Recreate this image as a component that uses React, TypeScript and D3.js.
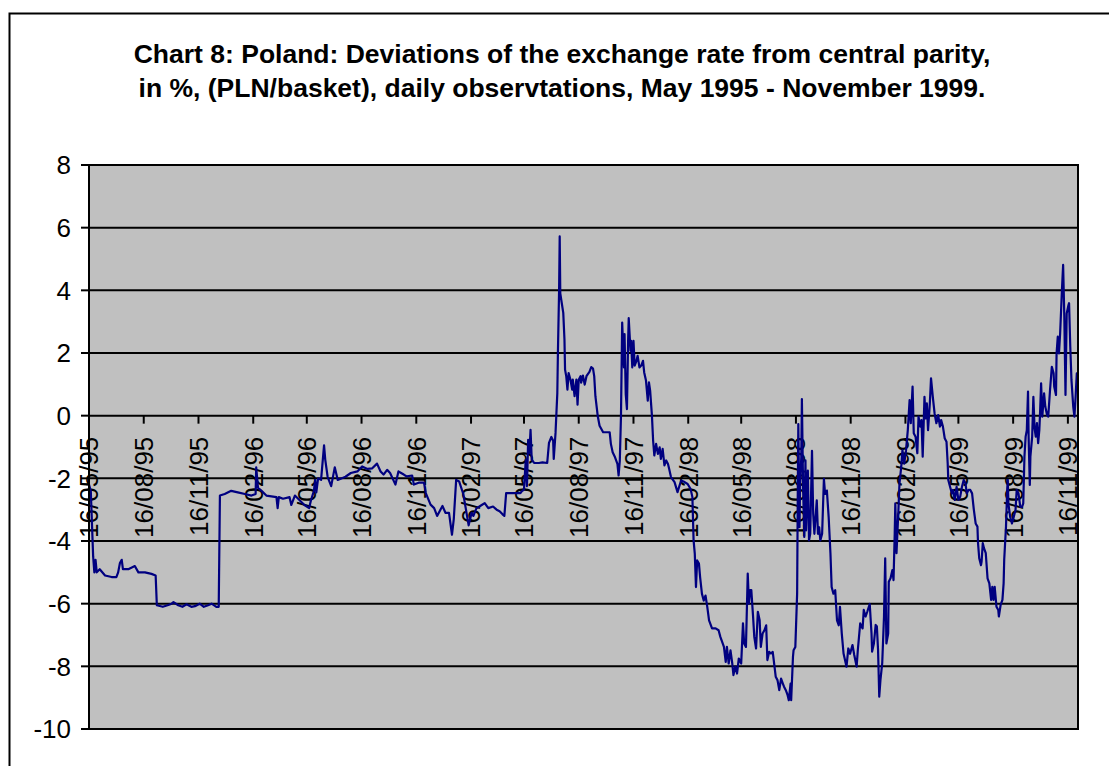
import React from "react";
import * as d3 from "d3";

const titleLines = [
  "Chart 8: Poland: Deviations of the exchange rate from central parity,",
  "in %, (PLN/basket), daily observtations, May 1995 - November 1999.",
];

const yTickValues = [8, 6, 4, 2, 0, -2, -4, -6, -8, -10];

const xTickLabels = [
  "16/05/95", "16/08/95", "16/11/95", "16/02/96", "16/05/96", "16/08/96",
  "16/11/96", "16/02/97", "16/05/97", "16/08/97", "16/11/97", "16/02/98",
  "16/05/98", "16/08/98", "16/11/98", "16/02/99", "16/05/99", "16/08/99",
  "16/11/99",
];

const xDomain = ["1995-05-16", "1999-12-03"];

const s1995: [string, number][] = [
  ["1995-05-16", -2.2], ["1995-05-19", -2.4], ["1995-05-23", -4.5], ["1995-05-25", -5.0],
  ["1995-05-27", -4.6], ["1995-05-29", -5.0], ["1995-06-03", -4.9], ["1995-06-12", -5.1],
  ["1995-06-23", -5.15], ["1995-07-01", -5.15], ["1995-07-04", -5.0], ["1995-07-07", -4.7],
  ["1995-07-10", -4.6], ["1995-07-12", -4.9], ["1995-07-21", -4.9], ["1995-08-01", -4.8],
  ["1995-08-07", -5.0], ["1995-08-18", -5.0], ["1995-08-29", -5.05], ["1995-09-05", -5.1],
  ["1995-09-07", -6.05], ["1995-09-17", -6.1], ["1995-09-25", -6.05], ["1995-10-02", -6.0],
  ["1995-10-05", -5.95], ["1995-10-13", -6.05], ["1995-10-20", -6.1], ["1995-10-27", -6.02],
  ["1995-11-04", -6.1], ["1995-11-10", -6.08], ["1995-11-18", -6.0], ["1995-11-25", -6.1],
  ["1995-12-02", -6.05], ["1995-12-08", -6.0], ["1995-12-16", -6.1], ["1995-12-20", -6.1],
  ["1995-12-22", -2.55], ["1995-12-30", -2.5],
];

const s1996: [string, number][] = [
  ["1996-01-10", -2.4], ["1996-01-21", -2.45], ["1996-02-02", -2.5], ["1996-02-13", -2.55],
  ["1996-02-20", -2.5], ["1996-02-21", -1.65], ["1996-02-24", -2.3], ["1996-03-01", -2.4],
  ["1996-03-09", -2.55], ["1996-03-26", -2.6], ["1996-03-28", -2.95], ["1996-03-30", -2.6],
  ["1996-04-06", -2.65], ["1996-04-17", -2.6], ["1996-04-20", -2.85], ["1996-04-26", -2.55],
  ["1996-05-04", -2.7], ["1996-05-12", -2.85], ["1996-05-20", -2.95], ["1996-05-23", -2.7],
  ["1996-05-28", -2.4], ["1996-05-30", -2.05], ["1996-06-01", -2.45], ["1996-06-04", -2.0],
  ["1996-06-09", -2.05], ["1996-06-14", -0.95], ["1996-06-16", -1.4], ["1996-06-20", -1.95],
  ["1996-06-26", -2.25], ["1996-07-02", -1.65], ["1996-07-07", -2.05], ["1996-07-20", -1.95],
  ["1996-07-29", -1.83], ["1996-08-09", -1.78], ["1996-08-17", -1.62], ["1996-08-26", -1.7],
  ["1996-09-03", -1.68], ["1996-09-11", -1.53], ["1996-09-17", -1.78], ["1996-09-22", -1.88],
  ["1996-09-28", -1.73], ["1996-10-03", -1.83], ["1996-10-12", -2.2], ["1996-10-17", -1.78],
  ["1996-10-26", -1.88], ["1996-10-31", -1.94], ["1996-11-09", -1.91], ["1996-11-12", -2.2],
  ["1996-11-20", -2.14], ["1996-11-29", -2.14], ["1996-12-02", -2.47], ["1996-12-10", -2.84],
  ["1996-12-16", -2.95], ["1996-12-21", -3.2], ["1996-12-30", -2.88],
];

const s1997: [string, number][] = [
  ["1997-01-04", -3.1], ["1997-01-10", -3.1], ["1997-01-15", -3.8], ["1997-01-18", -3.3],
  ["1997-01-22", -2.05], ["1997-01-27", -2.1], ["1997-02-03", -2.5], ["1997-02-12", -3.5],
  ["1997-02-17", -3.1], ["1997-02-20", -3.2], ["1997-02-25", -2.96], ["1997-03-06", -2.85],
  ["1997-03-11", -2.79], ["1997-03-17", -2.95], ["1997-03-25", -2.9], ["1997-03-31", -3.0],
  ["1997-04-05", -3.05], ["1997-04-10", -3.15], ["1997-04-13", -3.2], ["1997-04-16", -2.47],
  ["1997-05-10", -2.47], ["1997-05-12", -2.42], ["1997-05-16", -2.36], ["1997-05-19", -1.4],
  ["1997-05-21", -2.25], ["1997-05-23", -0.77], ["1997-05-25", -1.2], ["1997-05-27", -0.45],
  ["1997-05-29", -1.4], ["1997-06-02", -1.51], ["1997-06-10", -1.51], ["1997-06-16", -1.49],
  ["1997-06-24", -1.51], ["1997-06-27", -0.87], ["1997-07-01", -0.68], ["1997-07-04", -0.8],
  ["1997-07-05", -1.38], ["1997-07-08", -0.55], ["1997-07-11", 0.72], ["1997-07-12", 2.0],
  ["1997-07-14", 4.02], ["1997-07-15", 5.72], ["1997-07-16", 3.9], ["1997-07-21", 3.28],
  ["1997-07-23", 2.43], ["1997-07-24", 1.47], ["1997-07-26", 1.26], ["1997-07-28", 0.83],
  ["1997-07-30", 1.36], ["1997-08-02", 1.15], ["1997-08-05", 0.83], ["1997-08-06", 1.15],
  ["1997-08-09", 0.62], ["1997-08-12", 1.15], ["1997-08-14", 0.35], ["1997-08-16", 1.15],
  ["1997-08-19", 1.26], ["1997-08-20", 1.05], ["1997-08-23", 1.28], ["1997-08-26", 0.99],
  ["1997-08-29", 1.26], ["1997-08-31", 1.32], ["1997-09-03", 1.4], ["1997-09-06", 1.55],
  ["1997-09-09", 1.5], ["1997-09-11", 1.26], ["1997-09-13", 0.62], ["1997-09-17", -0.02],
  ["1997-09-20", -0.32], ["1997-09-26", -0.53], ["1997-10-07", -0.53], ["1997-10-09", -0.9],
  ["1997-10-12", -1.17], ["1997-10-16", -1.33], ["1997-10-20", -1.54], ["1997-10-22", -1.91],
  ["1997-10-24", -1.44], ["1997-10-26", 0.0], ["1997-10-28", 2.97], ["1997-10-31", 1.54],
  ["1997-11-01", 2.6], ["1997-11-03", 0.69], ["1997-11-05", 0.21], ["1997-11-07", 2.39],
  ["1997-11-08", 3.11], ["1997-11-11", 2.07], ["1997-11-12", 2.39], ["1997-11-14", 1.54],
  ["1997-11-16", 2.39], ["1997-11-18", 1.6], ["1997-11-21", 1.75], ["1997-11-23", 1.91],
  ["1997-11-26", 1.54], ["1997-11-29", 1.6], ["1997-12-02", 1.75], ["1997-12-04", 1.38],
  ["1997-12-07", 1.12], ["1997-12-10", 0.48], ["1997-12-12", 1.06], ["1997-12-14", 0.8],
  ["1997-12-17", 0.0], ["1997-12-19", -0.8], ["1997-12-21", -1.27], ["1997-12-24", -0.9],
  ["1997-12-27", -1.22], ["1997-12-30", -1.01],
];

const s1998: [string, number][] = [
  ["1998-01-01", -1.38], ["1998-01-04", -1.06], ["1998-01-07", -1.59], ["1998-01-10", -1.43],
  ["1998-01-13", -1.54], ["1998-01-15", -1.7], ["1998-01-18", -1.96], ["1998-01-24", -2.12],
  ["1998-01-29", -2.44], ["1998-02-04", -2.07], ["1998-02-10", -2.12], ["1998-02-15", -2.18],
  ["1998-02-20", -2.34], ["1998-02-23", -2.6], ["1998-02-25", -3.98], ["1998-02-27", -4.4],
  ["1998-03-01", -5.47], ["1998-03-03", -4.62], ["1998-03-06", -4.72], ["1998-03-08", -5.16],
  ["1998-03-11", -5.68], ["1998-03-14", -5.9], ["1998-03-17", -5.74], ["1998-03-20", -6.1],
  ["1998-03-23", -6.53], ["1998-03-28", -6.79], ["1998-04-03", -6.79], ["1998-04-08", -6.85],
  ["1998-04-11", -7.06], ["1998-04-17", -7.38], ["1998-04-20", -7.86], ["1998-04-22", -7.38],
  ["1998-04-25", -7.91], ["1998-04-28", -7.49], ["1998-05-01", -7.91], ["1998-05-03", -8.28],
  ["1998-05-06", -8.01], ["1998-05-09", -8.23], ["1998-05-12", -7.75], ["1998-05-16", -7.91],
  ["1998-05-19", -6.63], ["1998-05-21", -7.27], ["1998-05-24", -7.38], ["1998-05-27", -5.04],
  ["1998-05-29", -6.0], ["1998-05-31", -5.57], ["1998-06-02", -5.57], ["1998-06-05", -6.42],
  ["1998-06-07", -7.06], ["1998-06-10", -7.43], ["1998-06-13", -6.26], ["1998-06-16", -6.53],
  ["1998-06-18", -7.38], ["1998-06-21", -6.95], ["1998-06-24", -6.85], ["1998-06-27", -6.69],
  ["1998-06-29", -7.8], ["1998-07-02", -7.54], ["1998-07-05", -7.59], ["1998-07-08", -7.54],
  ["1998-07-11", -8.01], ["1998-07-13", -8.33], ["1998-07-16", -8.44], ["1998-07-19", -8.76],
  ["1998-07-22", -8.39], ["1998-07-25", -8.55], ["1998-07-27", -8.65], ["1998-07-30", -8.76],
  ["1998-08-02", -8.92], ["1998-08-04", -9.08], ["1998-08-07", -8.55], ["1998-08-08", -9.08],
  ["1998-08-11", -7.7], ["1998-08-12", -7.49], ["1998-08-15", -7.38], ["1998-08-18", -5.68],
  ["1998-08-19", -2.7], ["1998-08-20", -0.27], ["1998-08-22", -3.56], ["1998-08-23", -2.18],
  ["1998-08-25", -1.33], ["1998-08-26", 0.53], ["1998-08-28", -2.28], ["1998-08-30", -3.87],
  ["1998-09-01", -1.43], ["1998-09-02", -3.66], ["1998-09-05", -1.75], ["1998-09-07", -3.98],
  ["1998-09-09", -3.77], ["1998-09-12", -1.12], ["1998-09-14", -3.13], ["1998-09-16", -3.77],
  ["1998-09-20", -2.7], ["1998-09-22", -3.77], ["1998-09-24", -3.56], ["1998-09-26", -3.98],
  ["1998-09-29", -3.77], ["1998-10-02", -2.02], ["1998-10-04", -2.5], ["1998-10-07", -2.39],
  ["1998-10-10", -3.24], ["1998-10-13", -4.4], ["1998-10-15", -5.47], ["1998-10-18", -5.68],
  ["1998-10-21", -5.57], ["1998-10-24", -6.53], ["1998-10-27", -6.69], ["1998-10-29", -6.1],
  ["1998-11-01", -6.95], ["1998-11-04", -7.59], ["1998-11-09", -8.01], ["1998-11-12", -7.43],
  ["1998-11-15", -7.6], ["1998-11-19", -7.32], ["1998-11-22", -7.64], ["1998-11-26", -8.01],
  ["1998-11-28", -7.48], ["1998-12-02", -6.63], ["1998-12-06", -6.79], ["1998-12-08", -6.2],
  ["1998-12-11", -6.41], ["1998-12-14", -6.25], ["1998-12-18", -6.01], ["1998-12-21", -6.95],
  ["1998-12-22", -7.53], ["1998-12-25", -7.27], ["1998-12-28", -6.68], ["1998-12-30", -6.73],
];

const s1999: [string, number][] = [
  ["1999-01-01", -7.48], ["1999-01-03", -8.97], ["1999-01-05", -8.44], ["1999-01-08", -7.9],
  ["1999-01-11", -6.41], ["1999-01-13", -4.55], ["1999-01-15", -7.27], ["1999-01-18", -6.95],
  ["1999-01-19", -5.3], ["1999-01-22", -5.19], ["1999-01-25", -4.93], ["1999-01-27", -5.25],
  ["1999-01-29", -3.76], ["1999-01-30", -2.8], ["1999-02-01", -4.39], ["1999-02-04", -3.12],
  ["1999-02-06", -2.16], ["1999-02-09", -1.63], ["1999-02-11", -1.1], ["1999-02-14", -1.53],
  ["1999-02-17", -1.1], ["1999-02-20", -0.46], ["1999-02-23", 0.5], ["1999-02-25", -0.24],
  ["1999-02-28", 0.93], ["1999-03-02", -0.56], ["1999-03-05", -0.67], ["1999-03-08", -1.2],
  ["1999-03-10", -0.03], ["1999-03-13", -0.35], ["1999-03-15", -0.14], ["1999-03-17", -1.31],
  ["1999-03-20", 0.6], ["1999-03-22", -0.09], ["1999-03-24", 0.39], ["1999-03-26", -0.46],
  ["1999-03-29", 0.39], ["1999-03-31", 1.19], ["1999-04-03", 0.6], ["1999-04-06", 0.07],
  ["1999-04-09", -0.24], ["1999-04-12", 0.02], ["1999-04-15", -0.35], ["1999-04-17", -0.14],
  ["1999-04-20", -0.35], ["1999-04-23", -0.72], ["1999-04-26", -0.83], ["1999-04-28", -1.52],
  ["1999-04-29", -2.05], ["1999-05-02", -2.27], ["1999-05-05", -2.48], ["1999-05-07", -2.37],
  ["1999-05-10", -2.69], ["1999-05-13", -2.27], ["1999-05-16", -2.69], ["1999-05-19", -2.59],
  ["1999-05-22", -2.27], ["1999-05-25", -2.05], ["1999-05-28", -2.16], ["1999-05-30", -2.48],
  ["1999-06-02", -2.37], ["1999-06-05", -2.37], ["1999-06-08", -2.48], ["1999-06-11", -3.01],
  ["1999-06-14", -3.44], ["1999-06-17", -3.54], ["1999-06-18", -4.07], ["1999-06-20", -4.55],
  ["1999-06-23", -4.77], ["1999-06-24", -4.66], ["1999-06-26", -4.07], ["1999-06-28", -4.23],
  ["1999-07-01", -4.39], ["1999-07-04", -5.19], ["1999-07-07", -5.35], ["1999-07-10", -5.88],
  ["1999-07-12", -5.46], ["1999-07-14", -5.88], ["1999-07-16", -5.46], ["1999-07-19", -6.1],
  ["1999-07-22", -6.2], ["1999-07-23", -6.41], ["1999-07-26", -6.04], ["1999-07-29", -5.88],
  ["1999-07-31", -5.35], ["1999-08-01", -4.6], ["1999-08-04", -3.54], ["1999-08-06", -2.37],
  ["1999-08-07", -2.05], ["1999-08-08", -2.8], ["1999-08-11", -3.23], ["1999-08-14", -3.44],
  ["1999-08-17", -3.23], ["1999-08-20", -3.01], ["1999-08-22", -2.37], ["1999-08-25", -2.48],
  ["1999-08-28", -2.91], ["1999-08-31", -2.91], ["1999-09-02", -2.8], ["1999-09-04", -1.31],
  ["1999-09-06", -0.67], ["1999-09-08", -0.46], ["1999-09-10", 0.77], ["1999-09-11", -0.67],
  ["1999-09-13", -2.21], ["1999-09-14", -1.31], ["1999-09-17", -0.67], ["1999-09-19", 0.6],
  ["1999-09-21", -0.4], ["1999-09-23", -0.67], ["1999-09-25", -0.24], ["1999-09-27", -0.88],
  ["1999-09-29", -0.46], ["1999-09-30", -0.03], ["1999-10-02", 1.03], ["1999-10-04", -0.03],
  ["1999-10-07", 0.71], ["1999-10-09", 0.29], ["1999-10-12", 0.02], ["1999-10-14", -0.03],
  ["1999-10-17", 0.82], ["1999-10-20", 1.56], ["1999-10-23", 1.35], ["1999-10-24", 0.93],
  ["1999-10-27", 0.66], ["1999-10-28", 1.99], ["1999-10-30", 2.52], ["1999-11-01", 1.99],
  ["1999-11-03", 2.63], ["1999-11-06", 4.01], ["1999-11-08", 4.81], ["1999-11-10", 3.16],
  ["1999-11-12", 0.66], ["1999-11-14", 3.26], ["1999-11-17", 3.53], ["1999-11-18", 3.59],
  ["1999-11-20", 2.21], ["1999-11-22", 1.14], ["1999-11-25", 0.29], ["1999-11-27", -0.03],
  ["1999-11-29", 0.61], ["1999-12-01", 1.35], ["1999-12-03", 1.35],
];

const W = 1109;
const H = 766;
const M = { left: 89, right: 1078, top: 165, bottom: 729 };
const FONT = "'Liberation Sans', Arial, Helvetica, sans-serif";

export default function App() {
  const parseISO = d3.timeParse("%Y-%m-%d");
  const parseLabel = d3.timeParse("%d/%m/%y");
  const data = [...s1995, ...s1996, ...s1997, ...s1998, ...s1999].map(([d, v]) => ({
    date: parseISO(d) as Date,
    v,
  }));

  const x = d3
    .scaleTime()
    .domain(xDomain.map((d) => parseISO(d) as Date))
    .range([M.left, M.right]);
  const y = d3.scaleLinear().domain([-10, 8]).range([M.bottom, M.top]);

  const line = d3
    .line<{ date: Date; v: number }>()
    .x((d) => x(d.date))
    .y((d) => y(d.v));

  const y0 = y(0);

  return (
    <svg
      width={W}
      height={H}
      style={{ position: "absolute", left: 0, top: 0, background: "#fff" }}
      fontFamily={FONT}
    >
      <rect x={9.5} y={13.5} width={1106} height={770} fill="#fff" stroke="#000" strokeWidth={2} />
      {titleLines.map((t, i) => (
        <text
          key={i}
          x={562}
          y={63 + i * 34}
          textAnchor="middle"
          fontWeight="bold"
          fontSize={26.5}
          fill="#000"
        >
          {t}
        </text>
      ))}
      <rect
        x={M.left}
        y={M.top}
        width={M.right - M.left}
        height={M.bottom - M.top}
        fill="#C0C0C0"
      />
      {yTickValues
        .filter((v) => v !== 8 && v !== -10)
        .map((v) => (
          <line key={v} x1={M.left} x2={M.right} y1={y(v)} y2={y(v)} stroke="#000" strokeWidth={2} />
        ))}
      {yTickValues.map((v) => (
        <g key={"yt" + v}>
          <line x1={M.left - 8} x2={M.left} y1={y(v)} y2={y(v)} stroke="#000" strokeWidth={2} />
          <text x={71} y={y(v)} dy="0.36em" textAnchor="end" fontSize={26} fill="#000">
            {v}
          </text>
        </g>
      ))}
      {xTickLabels.map((l) => {
        const tx = x(parseLabel(l) as Date);
        return (
          <g key={l}>
            <line x1={tx} x2={tx} y1={y0} y2={y0 + 8} stroke="#000" strokeWidth={2} />
            <text
              transform={`translate(${tx},${y0 + 21}) rotate(-90)`}
              dy="0.36em"
              textAnchor="end"
              fontSize={26}
              fill="#000"
            >
              {l}
            </text>
          </g>
        );
      })}
      <path d={line(data) || ""} fill="none" stroke="#000080" strokeWidth={2.2} strokeLinejoin="round" />
      <rect
        x={M.left}
        y={M.top}
        width={M.right - M.left}
        height={M.bottom - M.top}
        fill="none"
        stroke="#000"
        strokeWidth={2}
      />
    </svg>
  );
}
